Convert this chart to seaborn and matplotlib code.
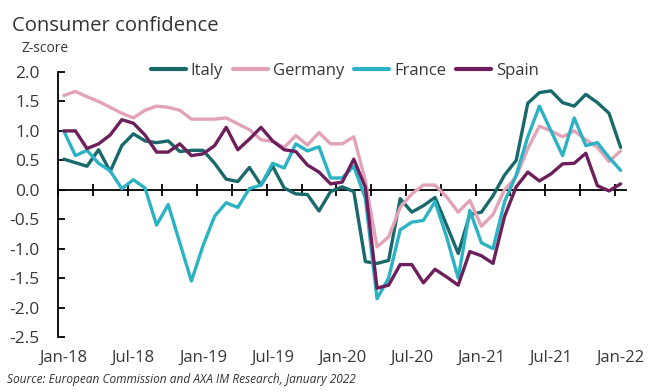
import matplotlib
matplotlib.use("Agg")
import matplotlib.pyplot as plt
import numpy as np
import pandas as pd
import seaborn as sns

# Monthly z-scores, Jan-2018 .. Jan-2022
months = pd.date_range("2018-01-01", "2022-01-01", freq="MS")
tick_labels = ["Jan-18", "Jul-18", "Jan-19", "Jul-19", "Jan-20",
               "Jul-20", "Jan-21", "Jul-21", "Jan-22"]
countries = ["Italy", "Germany", "France", "Spain"]

italy = [0.52, 0.46, 0.40, 0.68, 0.31, 0.75, 0.95, 0.83, 0.80, 0.83,
         0.65, 0.67, 0.67, 0.45, 0.18, 0.14, 0.38, 0.08, 0.40, 0.03,
         -0.07, -0.08, -0.36, -0.03, 0.05, -0.03, -1.22, -1.25, -1.20, -0.15,
         -0.38, -0.27, -0.13, -0.60, -1.08, -0.42, -0.38, -0.10, 0.25, 0.50,
         1.47, 1.65, 1.68, 1.48, 1.42, 1.62, 1.48, 1.30, 0.72]
germany = [1.60, 1.67, 1.58, 1.50, 1.40, 1.30, 1.22, 1.35, 1.42, 1.40,
           1.35, 1.20, 1.20, 1.20, 1.22, 1.12, 1.02, 0.85, 0.82, 0.72,
           0.92, 0.76, 0.97, 0.78, 0.78, 0.90, 0.15, -0.97, -0.80, -0.30,
           -0.07, 0.08, 0.08, -0.12, -0.38, -0.18, -0.62, -0.42, 0.00, 0.22,
           0.70, 1.08, 1.00, 0.90, 1.00, 0.85, 0.72, 0.48, 0.66]
france = [1.00, 0.58, 0.67, 0.45, 0.32, 0.02, 0.17, 0.03, -0.60, -0.25,
          -0.90, -1.55, -0.95, -0.45, -0.22, -0.30, 0.02, 0.08, 0.45, 0.37,
          0.78, 0.66, 0.73, 0.20, 0.20, 0.40, -0.15, -1.85, -1.50, -0.68,
          -0.55, -0.52, -0.20, -0.80, -1.50, -0.35, -0.90, -1.00, -0.20, 0.25,
          0.90, 1.42, 1.00, 0.58, 1.22, 0.75, 0.80, 0.55, 0.33]
spain = [1.00, 1.00, 0.70, 0.78, 0.93, 1.19, 1.13, 0.93, 0.64, 0.64,
         0.78, 0.58, 0.61, 0.75, 1.06, 0.68, 0.86, 1.06, 0.83, 0.68,
         0.65, 0.42, 0.30, 0.10, 0.13, 0.52, 0.04, -1.67, -1.62, -1.27,
         -1.27, -1.58, -1.35, -1.48, -1.62, -1.05, -1.12, -1.25, -0.45, 0.05,
         0.30, 0.15, 0.27, 0.44, 0.45, 0.62, 0.07, -0.02, 0.10]

colors = {"Italy": "#19696b", "Germany": "#e2a3b8",
          "France": "#2bb3c3", "Spain": "#6d1f5b"}

wide = pd.DataFrame({"Italy": italy, "Germany": germany,
                     "France": france, "Spain": spain})
wide["pos"] = np.arange(len(months))
long = wide.melt(id_vars="pos", var_name="country", value_name="z")

sns.set_theme(style="white")
plt.rcParams["font.family"] = ["Open Sans", "DejaVu Sans"]
plt.rcParams["axes.unicode_minus"] = False
text_col = "#383838"

W, H = 648, 392
fig = plt.figure(figsize=(W / 100, H / 100), dpi=100)
fig.patch.set_facecolor("white")
x0, x1, ytop, ybot = 58, 626.4, 72, 337
ax = fig.add_axes([x0 / W, 1 - ybot / H, (x1 - x0) / W, (ybot - ytop) / H])

sns.lineplot(data=long, x="pos", y="z", hue="country", hue_order=countries,
             palette=colors, linewidth=2.4, ax=ax, legend=True)

ax.set_xlim(-0.5, len(months) - 0.5)
ax.set_ylim(-2.5, 2.0)
ax.set_xlabel("")
ax.set_ylabel("")

# y axis
ax.set_yticks(np.arange(-2.5, 2.01, 0.5))
ax.set_yticklabels([f"{v:.1f}" for v in np.arange(-2.5, 2.01, 0.5)])
ax.tick_params(axis="y", direction="in", length=5, width=1.3, color="black",
               left=True, pad=13, labelsize=12.5, labelcolor=text_col)
for side in ["top", "right", "bottom"]:
    ax.spines[side].set_visible(False)
ax.spines["left"].set_color("black")
ax.spines["left"].set_linewidth(1.3)

# date labels along the bottom
ax.set_xticks(np.arange(0, len(months), 6))
ax.set_xticklabels(tick_labels)
ax.tick_params(axis="x", length=0, pad=9, labelsize=12, labelcolor=text_col)

# zero line carrying quarterly tick marks
zero = ax.secondary_xaxis(2.5 / 4.5)
zero.set_xticks(np.arange(-0.5, len(months), 3))
zero.tick_params(axis="x", direction="inout", length=8, width=1.3,
                 color="black", labeltop=False, labelbottom=False)
for sp in zero.spines.values():
    sp.set_color("black")
    sp.set_linewidth(1.3)

sns.move_legend(ax, "center", bbox_to_anchor=(0.505, 1.004), ncol=4,
                frameon=False, title=None, fontsize=12, handlelength=2.1,
                handletextpad=0.3, columnspacing=0.6, labelcolor=text_col)
for line in ax.get_legend().get_lines():
    line.set_linewidth(3)

fig.text(12 / W, 1 - 26 / H, "Consumer confidence", fontsize=14.6,
         color="#333333", va="center", ha="left")
fig.text(22 / W, 1 - 49 / H, "Z-score", fontsize=10, color=text_col,
         va="center", ha="left")
fig.text(7 / W, 1 - 380 / H,
         "Source: European Commission and AXA IM Research, January 2022",
         fontsize=8.6, style="italic", color="#333333", va="center", ha="left")

fig.savefig("out.png", dpi=100, facecolor="white")
